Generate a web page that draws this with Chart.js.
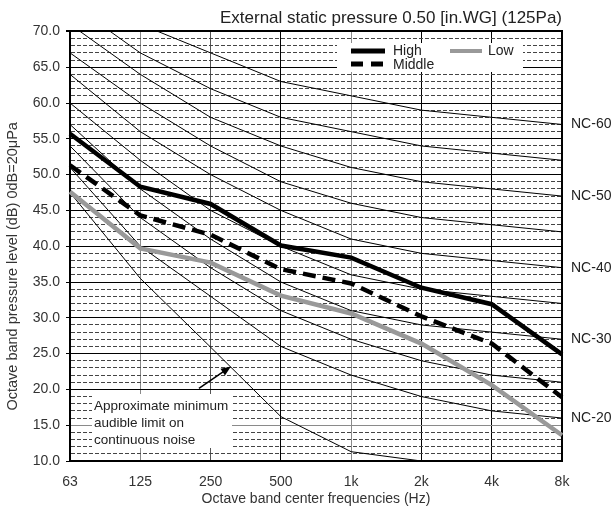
<!DOCTYPE html>
<html>
<head>
<meta charset="utf-8">
<script src="https://cdn.jsdelivr.net/npm/chart.js@4.4.1/dist/chart.umd.min.js"></script>
<style>
  html, body { margin: 0; padding: 0; background: #fff; }
  #wrap { width: 611px; height: 513px; }
</style>
</head>
<body>
<div id="wrap"><canvas id="nc-chart"></canvas></div>
<script>
// octave bands
const freqs = ['63', '125', '250', '500', '1k', '2k', '4k', '8k'];

// measured sound levels (dB)
const high   = [55.7, 48.3, 45.9, 40.1, 38.4, 34.2, 31.9, 24.9];
const middle = [51.3, 44.3, 41.6, 36.8, 34.8, 30.2, 26.4, 18.9];
const low    = [47.6, 39.7, 37.7, 33.1, 30.6, 26.4, 20.6, 13.6];

// NC reference curves
const nc20 = [51, 40, 33, 26, 22, 19, 17, 16];
const nc25 = [54, 44, 37, 31, 27, 24, 22, 21];
const nc30 = [57, 48, 41, 35, 31, 29, 28, 27];
const nc35 = [60, 52, 45, 40, 36, 34, 33, 32];
const nc40 = [64, 56, 50, 45, 41, 39, 38, 37];
const nc45 = [67, 60, 54, 49, 46, 44, 43, 42];
const nc50 = [71, 64, 58, 54, 51, 49, 48, 47];
const nc55 = [74, 67, 62, 58, 56, 54, 53, 52];
const nc60 = [77, 71, 67, 63, 61, 59, 58, 57];

// approximate minimum audible limit (below 10 dB past 2k)
const audible = [47.5, 35.5, 25.9, 16.2, 11.3, 10.0, null, null];

const ncLabels = ['NC-60', 'NC-50', 'NC-40', 'NC-30', 'NC-20'];
const ncLabelCurves = [nc60, nc50, nc40, nc30, nc20];

const yMin = 10, yMax = 70, yMajor = 5;

const FONT = '"Liberation Sans", Arial, Helvetica, sans-serif';
Chart.defaults.font.family = FONT;
Chart.defaults.color = '#222';

const ncTickValues = ncLabelCurves.map(c => c[c.length - 1]);
const xGridColors = ['#000', '#8a8a8a', '#555', '#000', '#8a8a8a', '#000', '#000', '#000'];

function ncSet(data) {
  return { data: data, borderColor: '#000', borderWidth: 1, pointRadius: 0, fill: false, order: 10 };
}

// legend + note drawn over the grid
const notes = {
  id: 'notes',
  afterDatasetsDraw(chart) {
    const ctx = chart.ctx;
    const xs = chart.scales.x, ys = chart.scales.y;
    ctx.save();

    // legend box
    ctx.fillStyle = '#fff';
    ctx.fillRect(337, 43, 186, 29);
    ctx.lineCap = 'butt';
    ctx.strokeStyle = '#000';
    ctx.lineWidth = 5;
    ctx.beginPath(); ctx.moveTo(351, 51); ctx.lineTo(385, 51); ctx.stroke();
    ctx.setLineDash([12, 8]);
    ctx.beginPath(); ctx.moveTo(351, 64); ctx.lineTo(385, 64); ctx.stroke();
    ctx.setLineDash([]);
    ctx.strokeStyle = '#999';
    ctx.lineWidth = 4;
    ctx.beginPath(); ctx.moveTo(450, 51); ctx.lineTo(482, 51); ctx.stroke();
    ctx.fillStyle = '#222';
    ctx.font = '14px ' + FONT;
    ctx.textBaseline = 'middle';
    ctx.textAlign = 'left';
    ctx.fillText('High', 393, 51);
    ctx.fillText('Middle', 393, 65);
    ctx.fillText('Low', 488, 51);

    // note box
    ctx.fillStyle = '#fff';
    ctx.fillRect(92, 394, 140, 54);
    ctx.fillStyle = '#222';
    ctx.font = '13.5px ' + FONT;
    ctx.fillText('Approximate minimum', 94, 406);
    ctx.fillText('audible limit on', 94, 423);
    ctx.fillText('continuous noise', 94, 440);

    // arrow to the audible-limit curve
    const tx = xs.getPixelForValue(2.29), ty = ys.getPixelForValue(23.2);
    const fx = tx - 32, fy = ty + 22;
    const ang = Math.atan2(ty - fy, tx - fx);
    ctx.strokeStyle = '#000';
    ctx.lineWidth = 1.5;
    ctx.beginPath(); ctx.moveTo(fx, fy); ctx.lineTo(tx - 7 * Math.cos(ang), ty - 7 * Math.sin(ang)); ctx.stroke();
    ctx.fillStyle = '#000';
    ctx.beginPath();
    ctx.moveTo(tx, ty);
    ctx.lineTo(tx - 10 * Math.cos(ang) + 4 * Math.sin(ang), ty - 10 * Math.sin(ang) - 4 * Math.cos(ang));
    ctx.lineTo(tx - 10 * Math.cos(ang) - 4 * Math.sin(ang), ty - 10 * Math.sin(ang) + 4 * Math.cos(ang));
    ctx.closePath();
    ctx.fill();
    ctx.restore();
  }
};

new Chart(document.getElementById('nc-chart'), {
  type: 'line',
  data: {
    labels: freqs,
    datasets: [
      { label: 'High', data: high, borderColor: '#000', borderWidth: 4.5, pointRadius: 0, order: 1 },
      { label: 'Middle', data: middle, borderColor: '#000', borderWidth: 4.5, borderDash: [13, 7], pointRadius: 0, order: 2 },
      { label: 'Low', data: low, borderColor: '#999', borderWidth: 4.5, pointRadius: 0, order: 3 },
      ncSet(nc20), ncSet(nc25), ncSet(nc30), ncSet(nc35), ncSet(nc40),
      ncSet(nc45), ncSet(nc50), ncSet(nc55), ncSet(nc60),
      ncSet(audible)
    ]
  },
  options: {
    responsive: true,
    maintainAspectRatio: false,
    animation: false,
    layout: { padding: 0 },
    elements: { line: { tension: 0 } },
    plugins: {
      legend: { display: false },
      tooltip: { enabled: false },
      title: {
        display: true,
        text: 'External static pressure 0.50 [in.WG] (125Pa)',
        align: 'end',
        fullSize: false,
        color: '#222',
        font: { size: 17, weight: 'normal' },
        padding: { top: 8, bottom: 3 }
      }
    },
    scales: {
      x: {
        grid: { color: ctx => xGridColors[ctx.index] || '#000', lineWidth: 1, drawTicks: false },
        border: { color: '#000', width: 2 },
        ticks: { padding: 13, color: '#333', font: { size: 14 }, autoSkip: false, maxRotation: 0 },
        title: {
          display: true,
          text: 'Octave band center frequencies (Hz)',
          color: '#333',
          font: { size: 14 },
          padding: { top: 0, bottom: 5 }
        },
        afterFit: s => { s.height = 52; }
      },
      y: {
        min: yMin,
        max: yMax,
        ticks: {
          stepSize: 1,
          maxTicksLimit: 100,
          autoSkip: false,
          padding: 6,
          color: '#333',
          font: { size: 14 },
          callback: v => v % yMajor === 0 ? v.toFixed(1) : ''
        },
        grid: {
          color: ctx => {
            const v = ctx.tick ? ctx.tick.value : 0;
            if (v % yMajor !== 0) return '#444';
            return v === 15 ? '#8a8a8a' : '#000';
          },
          lineWidth: ctx => (ctx.tick && ctx.tick.value === yMax) ? 2 : 1,
          tickLength: 4,
          tickColor: ctx => (ctx.tick && ctx.tick.value % yMajor === 0) ? '#000' : 'rgba(0,0,0,0)'
        },
        border: {
          color: '#000',
          width: 2,
          dash: ctx => (ctx.tick && ctx.tick.value % yMajor !== 0) ? [4, 2] : []
        },
        title: {
          display: true,
          text: 'Octave band pressure level (dB) 0dB=20μPa' + '\u00a0'.repeat(10),
          color: '#333',
          font: { size: 14.5 },
          padding: { top: 4, bottom: 0 }
        },
        afterFit: s => { s.width = 70; }
      },
      y2: {
        position: 'right',
        min: yMin,
        max: yMax,
        afterBuildTicks: s => { s.ticks = ncTickValues.map(v => ({ value: v })); },
        ticks: {
          autoSkip: false,
          padding: 9,
          color: '#222',
          font: { size: 14 },
          callback: v => ncLabels[ncTickValues.indexOf(v)]
        },
        grid: { display: false, drawTicks: false, drawOnChartArea: false },
        border: { display: true, color: '#000', width: 2 },
        afterFit: s => { s.width = 49; }
      }
    }
  },
  plugins: [notes]
});
</script>
</body>
</html>
